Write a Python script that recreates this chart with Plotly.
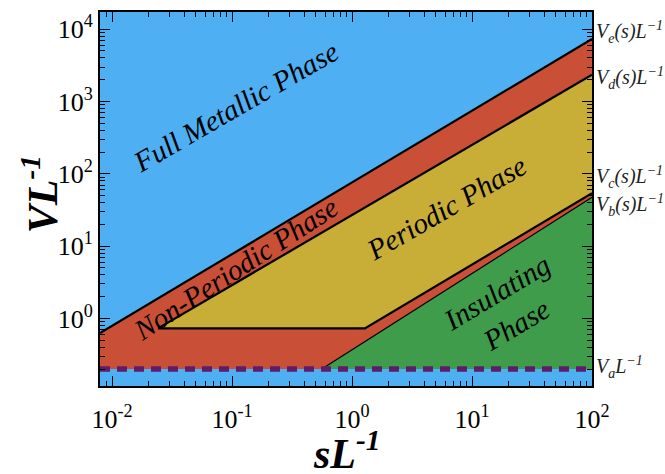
import plotly.graph_objects as go

# Axis extents (log-log phase diagram)
S_MIN, S_MAX = 10 ** -2.1, 100.0
V_MIN, V_MAX = 10 ** -0.934, 10 ** 4.238

# Phase boundaries, given as (sL^-1, VL^-1) vertices
ve_s = [S_MIN, 100.0]
ve_v = [0.628, 7310.0]
vd_s = [0.0242, 100.0]
vd_v = [0.73, 2340.0]
vc_s = [0.0242, 1.28, 100.0]
vc_v = [0.73, 0.73, 54.0]
vb_s = [0.56, 100.0]
vb_v = [0.2, 47.4]
va_v = 0.2

# Right-hand boundary labels
edge_labels = ["V<sub>e</sub>(s)L<sup>−1</sup>", "V<sub>d</sub>(s)L<sup>−1</sup>",
               "V<sub>c</sub>(s)L<sup>−1</sup>", "V<sub>b</sub>(s)L<sup>−1</sup>",
               "V<sub>a</sub>L<sup>−1</sup>"]
edge_label_logv = [3.956, 3.32, 1.95, 1.566, -0.673]

# Tick labels
tick_x_vals = [0.01, 0.1, 1, 10, 100]
tick_x_text = ["10<sup>-2</sup>", "10<sup>-1</sup>", "10<sup>0</sup>", "10<sup>1</sup>", "10<sup>2</sup>"]
tick_y_vals = [1, 10, 100, 1000, 10000]
tick_y_text = ["10<sup>0</sup>", "10<sup>1</sup>", "10<sup>2</sup>", "10<sup>3</sup>", "10<sup>4</sup>"]

BLUE = "#4eb0f3"
RED = "#c94f36"
YELLOW = "#c8ad37"
GREEN = "#3f9c4b"
PURPLE = "#5e1c6b"
SERIF = "Liberation Serif, Times New Roman, Times, serif"

fig = go.Figure()

# Non-periodic region (band plus the strip below the periodic phase)
red_s = ve_s + vb_s[::-1] + [S_MIN]
red_v = ve_v + vb_v[::-1] + [va_v]
fig.add_trace(go.Scatter(x=red_s, y=red_v, fill="toself", fillcolor=RED,
                         line=dict(width=0), mode="lines", hoverinfo="skip"))

# Periodic region
yel_s = vd_s + vc_s[::-1]
yel_v = vd_v + vc_v[::-1]
fig.add_trace(go.Scatter(x=yel_s, y=yel_v, fill="toself", fillcolor=YELLOW,
                         line=dict(width=0), mode="lines", hoverinfo="skip"))

# Insulating region
grn_s = vb_s + [vb_s[-1]]
grn_v = vb_v + [va_v]
fig.add_trace(go.Scatter(x=grn_s, y=grn_v, fill="toself", fillcolor=GREEN,
                         line=dict(width=0), mode="lines", hoverinfo="skip"))

# Boundary lines
for xs, ys, w in [(ve_s, ve_v, 2.2), (vd_s, vd_v, 2.2), (vc_s, vc_v, 2.2), (vb_s, vb_v, 1.2)]:
    fig.add_trace(go.Scatter(x=xs, y=ys, mode="lines",
                             line=dict(color="black", width=w), hoverinfo="skip"))

# V_a threshold
fig.add_trace(go.Scatter(x=[S_MIN, S_MAX], y=[va_v, va_v], mode="lines",
                         line=dict(color=PURPLE, width=5.5, dash="10px,7px"), hoverinfo="skip"))

minor_vals = [m * 10 ** e for e in range(-3, 5) for m in range(2, 10)]

axis_common = dict(
    type="log", showgrid=False, zeroline=False,
    showline=True, linecolor="black", linewidth=2, mirror="allticks",
    ticks="inside", ticklen=10, tickwidth=1.3, tickcolor="black",
    minor=dict(ticks="inside", ticklen=5, tickwidth=1, tickcolor="black",
               tickmode="array", tickvals=minor_vals, showgrid=False),
    tickfont=dict(family=SERIF, size=26, color="black"),
)

fig.update_xaxes(range=[-2.1, 2.0], tickmode="array", tickvals=tick_x_vals,
                 ticktext=tick_x_text, ticklabelstandoff=9, **axis_common)
fig.update_yaxes(range=[-0.934, 4.238], tickmode="array", tickvals=tick_y_vals,
                 ticktext=tick_y_text, **axis_common)

annotations = []
for txt, lv in zip(edge_labels, edge_label_logv):
    annotations.append(dict(xref="paper", yref="y", x=1.004, y=lv, text="<i>" + txt + "</i>",
                            showarrow=False, xanchor="left", yanchor="middle",
                            font=dict(family=SERIF, size=20, color="#222")))

phase_font = dict(family=SERIF, size=29, color="black")
for txt, xp, yp, ang in [
    ("Full Metallic Phase", 235, 105, -30),
    ("Non-Periodic Phase", 235, 268, -33),
    ("Periodic Phase", 446, 207, -30),
    ("Insulating<br>Phase", 506, 308, -31),
]:
    annotations.append(dict(xref="paper", yref="paper",
                            x=(xp - 100) / 492, y=(386 - yp) / 376.5,
                            text="<i>" + txt + "</i>", showarrow=False,
                            textangle=ang, font=phase_font,
                            xanchor="center", yanchor="middle"))

# Axis titles
annotations.append(dict(xref="paper", yref="paper", x=(40 - 100) / 492, y=(386 - 193) / 376.5,
                        text="<i><b>VL<sup>-1</sup></b></i>", showarrow=False, textangle=-90,
                        font=dict(family=SERIF, size=42, color="black"),
                        xanchor="center", yanchor="middle"))
annotations.append(dict(xref="paper", yref="paper", x=(346 - 100) / 492, y=(386 - 451) / 376.5,
                        text="<i><b>sL<sup>-1</sup></b></i>", showarrow=False,
                        font=dict(family=SERIF, size=42, color="black"),
                        xanchor="center", yanchor="middle"))

fig.update_layout(
    width=665, height=474,
    margin=dict(l=100, r=73, t=10, b=88),
    plot_bgcolor=BLUE, paper_bgcolor="white",
    showlegend=False,
    annotations=annotations,
)

fig.write_html("out.html")
